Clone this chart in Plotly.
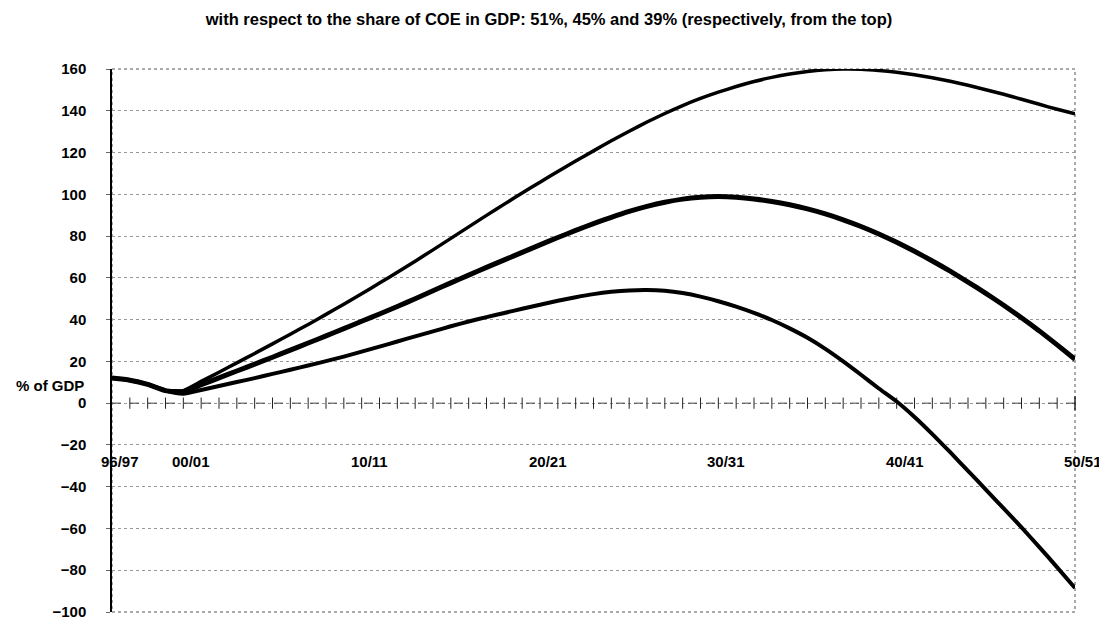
import plotly.graph_objects as go

years = ["96/97", "97/98", "98/99", "99/00"] + [f"{y % 100:02d}/{(y + 1) % 100:02d}" for y in range(2000, 2051)]

coe_51 = [12.0, 11.0, 9.0, 6.0, 6.0, 10.4, 14.8, 19.3, 23.8, 28.4,
          33.0, 37.7, 42.5, 47.4, 52.4, 57.5, 62.7, 68.0, 73.4, 78.9,
          84.4, 89.9, 95.3, 100.6, 105.8, 110.9, 115.9, 120.8, 125.6, 130.2,
          134.6, 138.7, 142.5, 145.9, 148.9, 151.6, 154.0, 156.0, 157.6, 158.8,
          159.6, 160.0, 159.9, 159.3, 158.4, 157.2, 155.8, 154.1, 152.2, 150.1,
          147.9, 145.5, 143.1, 140.7, 138.5]

coe_45 = [12.0, 11.0, 9.0, 6.0, 5.5, 8.8, 12.1, 15.4, 18.7, 22.0,
          25.4, 28.8, 32.2, 35.7, 39.2, 42.7, 46.3, 50.0, 53.8, 57.6,
          61.3, 65.0, 68.6, 72.2, 75.8, 79.3, 82.7, 86.0, 89.0, 91.8,
          94.2, 96.2, 97.7, 98.6, 98.9, 98.6, 97.8, 96.6, 95.0, 93.0,
          90.6, 87.8, 84.6, 81.0, 77.0, 72.7, 68.1, 63.2, 58.0, 52.6,
          46.9, 40.9, 34.6, 27.9, 21.0]

coe_39 = [12.0, 11.0, 9.0, 6.0, 4.5, 6.3, 8.2, 10.1, 12.0, 14.0,
          16.0, 18.0, 20.1, 22.3, 24.7, 27.1, 29.5, 32.0, 34.4, 36.8,
          39.1, 41.2, 43.2, 45.2, 47.1, 49.0, 50.7, 52.2, 53.3, 54.0,
          54.2, 53.8, 52.7, 51.0, 48.8, 46.2, 43.2, 39.8, 35.8, 31.3,
          26.0, 20.0, 13.6, 7.0, 0.8, -6.6, -14.8, -23.5, -32.4, -41.4,
          -50.4, -59.5, -68.9, -78.6, -88.5]

label_years = ["96/97", "00/01", "10/11", "20/21", "30/31", "40/41", "50/51"]
y_ticks = list(range(-100, 161, 20))

title_text = "with respect to the share of COE in GDP: 51%, 45% and 39% (respectively, from the top)"
y_label = "% of GDP"

FONT = "Liberation Sans, Arial, sans-serif"
idx = list(range(len(years)))
n_last = idx[-1]

W, H = 1095, 613

fig = go.Figure()

# zero line with cross ticks
fig.add_trace(go.Scatter(x=[idx[0], idx[-1]], y=[0, 0], mode="lines",
                         line=dict(color="#444", width=1, dash="dash"),
                         hoverinfo="skip", showlegend=False))
fig.add_trace(go.Scatter(x=idx[1:-1], y=[0] * (len(idx) - 2), mode="markers",
                         marker=dict(symbol="line-ns-open", size=8, color="#222",
                                     line=dict(color="#222", width=1)),
                         hoverinfo="skip", showlegend=False))
fig.add_trace(go.Scatter(x=[idx[-1]], y=[0], mode="markers",
                         marker=dict(symbol="line-ns-open", size=10, color="#222",
                                     line=dict(color="#222", width=1.5)),
                         hoverinfo="skip", showlegend=False, cliponaxis=False))

for vals, w, name in [(coe_39, 4, "39%"), (coe_45, 5, "45%"), (coe_51, 3.5, "51%")]:
    fig.add_trace(go.Scatter(x=idx, y=vals, mode="lines", name=name,
                             line=dict(color="black", width=w, shape="spline", smoothing=0.5),
                             showlegend=False))

# category labels under the -20 line
for lab in label_years:
    fig.add_annotation(x=years.index(lab) / n_last, y=-20, xref="paper", yref="y",
                       text="<b>" + lab + "</b>", showarrow=False, xshift=8, yshift=-6,
                       yanchor="top", xanchor="center",
                       font=dict(family=FONT, size=15, color="black"))

fig.add_annotation(x=0, y=12, xref="paper", yref="y",
                   text="<b>" + y_label + "</b>", showarrow=False, xanchor="right",
                   xshift=-26, yshift=-7,
                   font=dict(family=FONT, size=15, color="black"))

# frame
fig.add_shape(type="rect", xref="paper", yref="paper", x0=0, y0=0, x1=1, y1=1,
              line=dict(color="#555", width=1, dash="dot"), layer="below")

fig.update_layout(
    width=W, height=H,
    margin=dict(l=104, r=28, t=61, b=9, autoexpand=False),
    paper_bgcolor="white", plot_bgcolor="white",
    title=dict(text="<b>" + title_text + "</b>", x=541 / W, xref="container", xanchor="center",
               y=1 - 11 / H, yanchor="middle",
               font=dict(family=FONT, size=16.5, color="black")),
    font=dict(family=FONT, size=15, color="black"),
    xaxis=dict(range=[0, n_last], showgrid=False, showticklabels=False,
               zeroline=False, showline=False, ticks="", automargin=False),
    yaxis=dict(range=[-100, 160], tickvals=y_ticks, showgrid=True, automargin=False,
               gridcolor="#999", griddash="dot", gridwidth=1,
               zeroline=False, showline=True, linecolor="black", linewidth=1.5,
               ticks="outside", ticklen=4, tickcolor="#666",
               ticklabelstandoff=17,
               tickfont=dict(family=FONT, size=15, color="black", weight="bold")),
)

fig.write_html("out.html")
